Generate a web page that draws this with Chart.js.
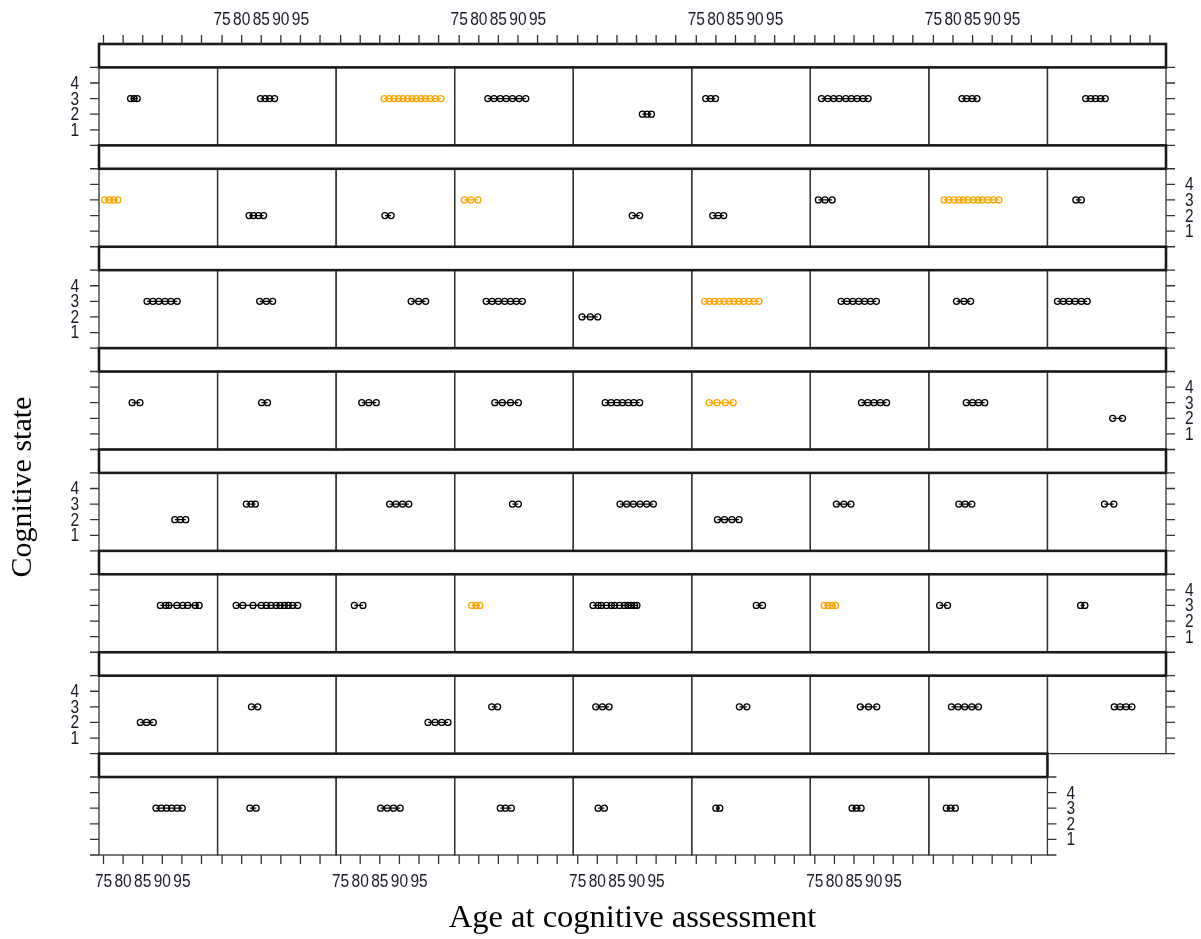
<!DOCTYPE html>
<html>
<head>
<meta charset="utf-8">
<script src="https://cdn.jsdelivr.net/npm/chart.js@4"></script>
<style>
  html, body { margin: 0; padding: 0; background: #fff; }
  canvas { display: block; }
</style>
</head>
<body>
<canvas id="lattice" width="1201" height="939"></canvas>
<script>
// ages at assessment, one array per panel, rows read top to bottom
const row1Ages = [
  [81.9, 82.8, 83.6],
  [84.8, 86.0, 87.1, 88.4],
  [86.1, 87.4, 88.6, 89.8, 90.9, 92.1, 93.2, 94.3, 95.5, 96.6, 97.8, 99.2, 100.6],
  [82.3, 83.9, 85.5, 87.0, 88.6, 90.3, 92.0],
  [91.5, 92.7, 93.8],
  [77.4, 78.7, 79.9],
  [76.7, 78.3, 79.8, 81.2, 82.9, 84.3, 85.8, 87.3, 88.6],
  [82.3, 83.5, 84.9, 86.1],
  [83.6, 84.9, 86.1, 87.4, 88.6]
];
const row2Ages = [
  [75.3, 76.5, 77.6, 78.7],
  [81.9, 83.0, 84.3, 85.6],
  [86.3, 87.9],
  [76.3, 78.0, 79.8],
  [88.9, 90.8],
  [79.2, 80.6, 82.0],
  [75.9, 77.6, 79.4],
  [77.7, 78.9, 80.3, 81.5, 82.6, 83.8, 85.2, 86.4, 87.5, 88.9, 90.3, 91.7],
  [81.1, 82.5]
];
const row3Ages = [
  [86.1, 87.6, 89.1, 90.7, 92.2, 93.8],
  [84.6, 86.3, 87.9],
  [93.0, 94.9, 96.7],
  [81.9, 83.4, 85.0, 86.6, 88.1, 89.6, 91.1],
  [76.1, 78.2, 80.1],
  [77.1, 78.4, 79.6, 80.8, 82.1, 83.4, 84.6, 85.9, 87.1, 88.4, 89.7, 91.0],
  [81.7, 83.2, 84.7, 86.2, 87.7, 89.2, 90.7],
  [80.9, 82.8, 84.5],
  [76.4, 77.9, 79.4, 80.9, 82.5, 84.0]
];
const row4Ages = [
  [82.3, 84.3],
  [85.1, 86.6],
  [80.4, 82.2, 84.1],
  [84.1, 86.0, 88.1, 90.1],
  [82.0, 83.5, 85.0, 86.4, 87.9, 89.3, 90.8],
  [78.3, 80.3, 82.4, 84.4],
  [86.9, 88.5, 90.1, 91.7, 93.3],
  [83.4, 85.0, 86.5, 88.1],
  [90.5, 93.0]
];
const row5Ages = [
  [93.2, 94.6, 96.0],
  [81.2, 82.4, 83.5],
  [87.5, 89.1, 90.8, 92.4],
  [88.6, 90.1],
  [85.8, 87.5, 89.2, 90.9, 92.6, 94.3],
  [80.4, 82.2, 84.1, 85.9],
  [80.5, 82.4, 84.2],
  [81.5, 83.1, 84.8],
  [88.4, 90.8]
];
const row6Ages = [
  [89.5, 90.9, 91.7, 93.7, 95.2, 96.5, 98.4, 99.4],
  [78.6, 80.3, 82.9, 85.0, 86.3, 87.5, 88.8, 89.8, 90.9, 91.9, 93.0, 94.3],
  [78.5, 80.7],
  [78.2, 79.3, 80.3],
  [78.9, 80.2, 81.0, 82.3, 83.6, 84.4, 85.7, 86.9, 87.8, 88.6, 89.5, 90.1],
  [90.3, 91.9],
  [77.4, 78.4, 79.4, 80.3],
  [76.6, 78.6],
  [82.3, 83.4]
];
const row7Ages = [
  [84.4, 86.0, 87.7],
  [82.5, 84.1],
  [97.3, 99.1, 100.8, 102.4],
  [83.3, 84.8],
  [79.6, 81.3, 83.0],
  [86.0, 87.9],
  [86.6, 88.7, 90.8],
  [79.6, 81.3, 83.0, 84.8, 86.5],
  [90.9, 92.4, 93.9, 95.4]
];
const row8Ages = [
  [88.4, 89.7, 91.1, 92.4, 93.8, 95.1],
  [82.1, 83.7],
  [85.2, 86.9, 88.5, 90.2],
  [85.5, 86.8, 88.3],
  [80.2, 81.8],
  [80.0, 81.0],
  [84.5, 85.6, 86.8],
  [78.3, 79.4, 80.6]
];

// cognitive state of each panel
const row1States = [3, 3, 3, 3, 2, 3, 3, 3, 3];
const row2States = [3, 2, 2, 3, 2, 2, 3, 3, 3];
const row3States = [3, 3, 3, 3, 2, 3, 3, 3, 3];
const row4States = [3, 3, 3, 3, 3, 3, 3, 3, 2];
const row5States = [2, 3, 3, 3, 3, 2, 3, 3, 3];
const row6States = [3, 3, 3, 3, 3, 3, 3, 3, 3];
const row7States = [2, 3, 2, 3, 3, 3, 3, 3, 3];
const row8States = [3, 3, 3, 3, 3, 3, 3, 3];

// highlighted subjects (drawn orange)
const row1Marked = [0, 0, 1, 0, 0, 0, 0, 0, 0];
const row2Marked = [1, 0, 0, 1, 0, 0, 0, 1, 0];
const row3Marked = [0, 0, 0, 0, 0, 1, 0, 0, 0];
const row4Marked = [0, 0, 0, 0, 0, 1, 0, 0, 0];
const row5Marked = [0, 0, 0, 0, 0, 0, 0, 0, 0];
const row6Marked = [0, 0, 0, 1, 0, 0, 1, 0, 0];
const row7Marked = [0, 0, 0, 0, 0, 0, 0, 0, 0];
const row8Marked = [0, 0, 0, 0, 0, 0, 0, 0];

const xTicks = [75, 80, 85, 90, 95, 100];
const xTickLabels = ['75', '80', '85', '90', '95'];
const yTicks = [0, 1, 2, 3, 4, 5];
const yTickLabels = ['', '1', '2', '3', '4', ''];

const ageRows = [row1Ages, row2Ages, row3Ages, row4Ages, row5Ages, row6Ages, row7Ages, row8Ages];
const stateRows = [row1States, row2States, row3States, row4States, row5States, row6States, row7States, row8States];
const markRows = [row1Marked, row2Marked, row3Marked, row4Marked, row5Marked, row6Marked, row7Marked, row8Marked];

const NCOL = 9;
const X_MIN = 73.85, X_MAX = 104.1;
const Y_TOP = 5, Y_MAX = 6.5;   // 5..6.5 is the strip above every panel
const ORANGE = '#FFA500';

const datasets = [];
ageRows.forEach(function(row, r) {
  row.forEach(function(ages, c) {
    const col = markRows[r][c] ? ORANGE : '#000';
    datasets.push({
      xAxisID: 'x' + c,
      yAxisID: 'y' + r,
      data: ages.map(a => ({x: a, y: stateRows[r][c]})),
      showLine: true,
      borderColor: col,
      borderWidth: 1.2,
      pointRadius: 3,
      pointBorderWidth: 1.3,
      pointBorderColor: col,
      pointBackgroundColor: 'rgba(0,0,0,0)'
    });
  });
});

const scales = {};
for (let c = 0; c < NCOL; c++) {
  scales['x' + c] = {type: 'linear', axis: 'x', position: 'bottom', stack: 'cols', stackWeight: 1,
    display: false, min: X_MIN, max: X_MAX};
}
for (let r = 0; r < ageRows.length; r++) {
  scales['y' + r] = {type: 'linear', axis: 'y', position: 'right', stack: 'rows', stackWeight: 1,
    display: false, min: 0, max: Y_MAX};
}

function narrowText(ctx, txt, x, y, align) {
  ctx.save();
  ctx.translate(x, y);
  ctx.scale(0.86, 1);
  ctx.textAlign = align;
  ctx.fillText(txt, 0, 0);
  ctx.restore();
}

const latticeFrame = {
  id: 'latticeFrame',
  beforeDraw(chart) {
    const ctx = chart.ctx;
    ctx.save();
    ctx.fillStyle = '#fff';
    ctx.fillRect(0, 0, chart.width, chart.height);
    ctx.restore();
  },
  afterDatasetsDraw(chart) {
    const ctx = chart.ctx;
    const s = chart.scales;
    const nRow = ageRows.length;
    ctx.save();
    ctx.strokeStyle = '#333';
    ctx.fillStyle = '#1a1a2a';
    ctx.font = '18px "Liberation Sans", Arial, sans-serif';
    ctx.textBaseline = 'middle';

    ageRows.forEach(function(row, r) {
      const ys = s['y' + r];
      const n = row.length;
      const xl = s.x0.left, xr = s['x' + (n - 1)].right;
      const yStrip = ys.top, yTop = ys.getPixelForValue(Y_TOP), yBot = ys.getPixelForValue(0);

      // panels
      ctx.lineWidth = 1.3;
      for (let c = 0; c < n; c++) {
        const xs = s['x' + c];
        ctx.strokeRect(xs.left, yTop, xs.right - xs.left, yBot - yTop);
      }
      // strip
      ctx.lineWidth = 2.6;
      ctx.strokeStyle = '#1a1a1a';
      ctx.strokeRect(xl, yStrip, xr - xl, yTop - yStrip);
      ctx.strokeStyle = '#333';

      // y ticks on both sides, labels alternate
      ctx.lineWidth = 1.3;
      yTicks.forEach(function(t, i) {
        const py = ys.getPixelForValue(t);
        ctx.beginPath();
        ctx.moveTo(xl - 9, py); ctx.lineTo(xl, py);
        ctx.moveTo(xr, py); ctx.lineTo(xr + 9, py);
        ctx.stroke();
        if (r % 2 === 0) narrowText(ctx, yTickLabels[i], xl - 20, py + 1, 'right');
        else narrowText(ctx, yTickLabels[i], xr + 19, py + 1, 'left');
      });

      // top axis above first row
      if (r === 0) {
        for (let c = 0; c < n; c++) {
          const xs = s['x' + c];
          xTicks.forEach(function(t, i) {
            const px = xs.getPixelForValue(t);
            ctx.beginPath(); ctx.moveTo(px, yStrip - 9); ctx.lineTo(px, yStrip); ctx.stroke();
            if (c % 2 === 1 && xTickLabels[i]) narrowText(ctx, xTickLabels[i], px, yStrip - 24, 'center');
          });
        }
      }
      // bottom axis below last row
      if (r === nRow - 1) {
        for (let c = 0; c < n; c++) {
          const xs = s['x' + c];
          xTicks.forEach(function(t, i) {
            const px = xs.getPixelForValue(t);
            ctx.beginPath(); ctx.moveTo(px, yBot); ctx.lineTo(px, yBot + 9); ctx.stroke();
            if (c % 2 === 0 && xTickLabels[i]) narrowText(ctx, xTickLabels[i], px, yBot + 27, 'center');
          });
        }
      }
    });

    // axis titles
    ctx.fillStyle = '#000';
    ctx.textAlign = 'center';
    ctx.textBaseline = 'alphabetic';
    const cx = (s.x0.left + s['x' + (NCOL - 1)].right) / 2;
    ctx.font = '32.5px "Liberation Serif", "Times New Roman", serif';
    ctx.fillText('Age at cognitive assessment', cx, 927);
    ctx.font = '30px "Liberation Serif", "Times New Roman", serif';
    ctx.translate(31, 487);
    ctx.rotate(-Math.PI / 2);
    ctx.fillText('Cognitive state', 0, 0);
    ctx.restore();
  }
};

new Chart(document.getElementById('lattice').getContext('2d'), {
  type: 'scatter',
  data: {datasets: datasets},
  options: {
    responsive: false,
    animation: false,
    events: [],
    layout: {padding: {left: 99, right: 35, top: 44, bottom: 84}},
    scales: scales,
    plugins: {legend: {display: false}, tooltip: {enabled: false}}
  },
  plugins: [latticeFrame]
});
</script>
</body>
</html>
